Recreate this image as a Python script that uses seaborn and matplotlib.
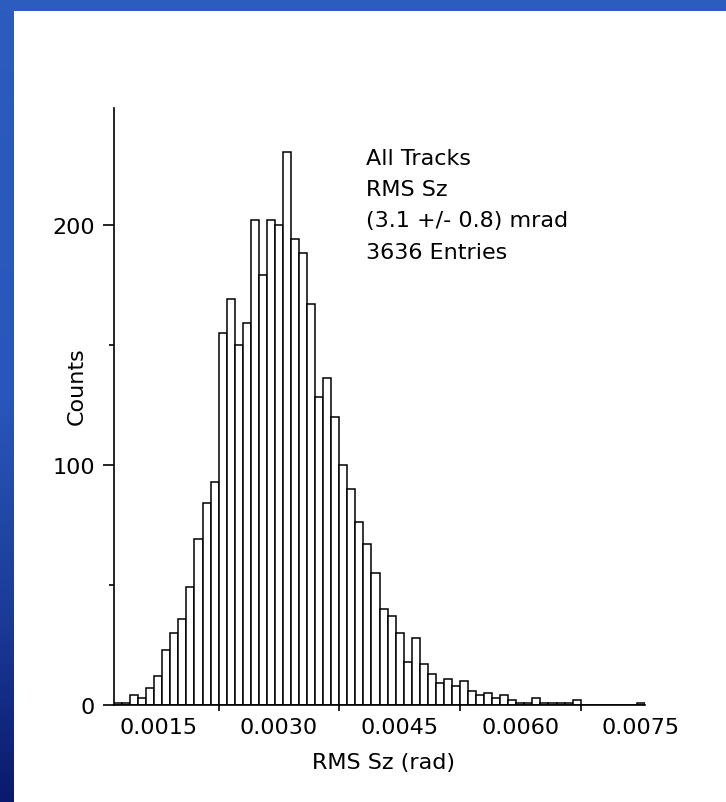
import numpy as np
import pandas as pd
import matplotlib
matplotlib.use("Agg")
import matplotlib.pyplot as plt
import seaborn as sns
from matplotlib.colors import LinearSegmentedColormap
from matplotlib.patches import Rectangle

# ---- data ----
bin_start = 0.00095
bin_width = 0.0001
counts = [1, 1, 4, 3, 7, 12, 23, 30, 36, 49,
          69, 84, 93, 155, 169, 150, 159, 202, 179, 202,
          200, 230, 194, 188, 167, 128, 136, 120, 100, 90,
          76, 67, 55, 40, 37, 30, 18, 28, 17, 13,
          9, 11, 8, 10, 6, 4, 5, 3, 4, 2,
          1, 1, 3, 1, 1, 1, 1, 2,
          0, 0, 0, 0, 0, 0, 0, 1]
x_label_values = [0.0015, 0.0030, 0.0045, 0.0060, 0.0075]
x_label_texts = ["0.0015", "0.0030", "0.0045", "0.0060", "0.0075"]
x_tick_marks = [0.00225, 0.00375, 0.00525, 0.00675]
y_major = [0, 100, 200]
y_minor = [50, 150]
info_lines = ["All Tracks", "RMS Sz", "(3.1 +/- 0.8) mrad", "3636 Entries"]

edges = [bin_start + bin_width * k for k in range(len(counts) + 1)]
centers = [(edges[k] + edges[k + 1]) / 2 for k in range(len(counts))]
df = pd.DataFrame({"rms": centers, "n": counts})

sns.set_style("ticks")
plt.rcParams["font.family"] = ["DejaVu Sans"]
plt.rcParams["font.size"] = 16

W, H = 726, 803
fig = plt.figure(figsize=(W / 100, H / 100), dpi=100)
fig.patch.set_facecolor("white")

# background frame (blue bands)
bg = fig.add_axes([0, 0, 1, 1], zorder=-1)
bg.axis("off")
cmap = LinearSegmentedColormap.from_list(
    "band", [(0, "#2c5cbe"), (0.5, "#2956ba"), (0.78, "#1a3a96"), (1.0, "#0a1a6e")])
grad = np.linspace(0, 1, 256).reshape(-1, 1)
bg.imshow(grad, cmap=cmap, extent=[0, 14, H, 0], aspect="auto", interpolation="bilinear")
bg.add_patch(Rectangle((0, 0), W, 12, color="#2c5cbe", lw=0))
bg.set_xlim(0, W)
bg.set_ylim(H, 0)

ax = fig.add_axes([114 / W, 97 / H, 531 / W, 597 / H])
ax.patch.set_visible(False)

sns.histplot(data=df, x="rms", weights="n", bins=edges, ax=ax,
             color="white", edgecolor="black", linewidth=1.1,
             alpha=1, element="bars", fill=True, shrink=1)

ax.set_xlim(edges[0], edges[-1])
ax.set_ylim(0, 248.5)

for s in ["top", "right"]:
    ax.spines[s].set_visible(False)
for s in ["left", "bottom"]:
    ax.spines[s].set_linewidth(1.2)
    ax.spines[s].set_color("black")

ax.set_xticks(x_tick_marks, labels=[""] * len(x_tick_marks))
ax.set_xticks(x_label_values, labels=x_label_texts, minor=True)
ax.tick_params(axis="x", which="major", length=4.3, width=1.2, direction="out", color="black")
ax.tick_params(axis="x", which="minor", length=0, pad=8.5, labelsize=16, labelcolor="black")

ax.set_yticks(y_major, labels=[str(v) for v in y_major])
ax.set_yticks(y_minor, minor=True)
ax.tick_params(axis="y", which="major", length=7.9, width=1.2, pad=5.8, labelsize=16,
               direction="out", color="black", labelcolor="black")
ax.tick_params(axis="y", which="minor", length=3.6, width=1.2, direction="out", color="black")

ax.set_xlabel("RMS Sz (rad)", fontsize=16, color="black")
ax.xaxis.set_label_coords(0.5066, -0.0787)
ax.set_ylabel("Counts", fontsize=16, color="black")
ax.yaxis.set_label_coords(-0.051, 0.536)

baselines = [165, 196, 227, 259]
for line, yb in zip(info_lines, baselines):
    ax.text((366 - 114) / 531, (706 - yb) / 597, line, transform=ax.transAxes,
            va="baseline", ha="left", fontsize=16, color="black")

fig.savefig("out.png", dpi=100)
